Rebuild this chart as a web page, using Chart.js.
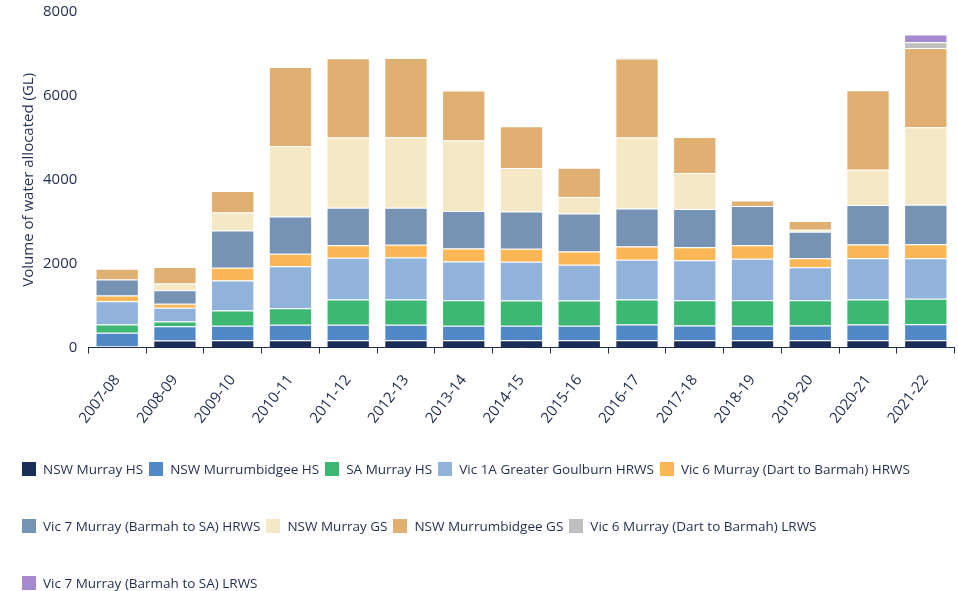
<!DOCTYPE html>
<html>
<head>
<meta charset="utf-8">
<script src="https://cdn.jsdelivr.net/npm/chart.js@4/dist/chart.umd.min.js"></script>
<style>
  html, body { margin: 0; padding: 0; background: #ffffff; }
  #wrap { position: relative; width: 958px; height: 448px; }
  #legend { width: 936px; margin: -8px 0 0 0; padding: 0 0 0 22px; display: flex; flex-wrap: wrap;
            font-family: "Open Sans", sans-serif; font-size: 13.5px; color: #1f2d4f; position: relative; }
  .li { display: flex; align-items: center; height: 57px; margin-right: 6px; white-space: nowrap; }
  .sw { width: 14px; height: 14px; margin-right: 7px; }
</style>
</head>
<body>
<div id="wrap"><canvas id="c"></canvas></div>
<div id="legend"></div>
<script>
const categories = ["2007-08","2008-09","2009-10","2010-11","2011-12","2012-13","2013-14","2014-15","2015-16","2016-17","2017-18","2018-19","2019-20","2020-21","2021-22"];

const nswMurrayHS        = [24, 168, 174, 174, 174, 174, 174, 174, 174, 174, 174, 174, 174, 174, 174];
const nswMurrumbidgeeHS  = [327, 342, 344, 368, 368, 368, 344, 344, 344, 375, 351, 344, 351, 375, 382];
const saMurrayHS         = [198, 113, 365, 396, 604, 604, 611, 604, 604, 597, 604, 611, 604, 597, 606];
const vic1AGoulburnHRWS  = [556, 328, 716, 1003, 995, 1002, 924, 924, 852, 947, 955, 988, 788, 986, 970];
const vic6MurrayHRWS     = [136, 96, 303, 296, 301, 303, 310, 310, 318, 318, 310, 325, 215, 327, 334];
const vic7MurrayHRWS     = [382, 318, 891, 890, 893, 884, 891, 890, 907, 907, 907, 931, 630, 938, 940];
const nswMurrayGS        = [0, 161, 429, 1678, 1671, 1678, 1680, 1034, 389, 1688, 860, 0, 48, 845, 1845];
const nswMurrumbidgeeGS  = [256, 397, 509, 1886, 1892, 1893, 1193, 995, 701, 1885, 859, 136, 205, 1893, 1893];
const vic6MurrayLRWS     = [0, 0, 0, 0, 0, 0, 0, 0, 0, 20, 0, 0, 0, 0, 136];
const vic7MurrayLRWS     = [0, 0, 0, 0, 0, 0, 0, 0, 0, 0, 0, 0, 0, 0, 184];

const yTicks = [0, 2000, 4000, 6000, 8000];
const yTitle = "Volume of water allocated (GL)";

const seriesNames = ["NSW Murray HS","NSW Murrumbidgee HS","SA Murray HS","Vic 1A Greater Goulburn HRWS","Vic 6 Murray (Dart to Barmah) HRWS","Vic 7 Murray (Barmah to SA) HRWS","NSW Murray GS","NSW Murrumbidgee GS","Vic 6 Murray (Dart to Barmah) LRWS","Vic 7 Murray (Barmah to SA) LRWS"];
const seriesValues = [nswMurrayHS, nswMurrumbidgeeHS, saMurrayHS, vic1AGoulburnHRWS, vic6MurrayHRWS, vic7MurrayHRWS, nswMurrayGS, nswMurrumbidgeeGS, vic6MurrayLRWS, vic7MurrayLRWS];
const seriesColors = ["#1b2e58","#5189c8","#3db873","#91b3db","#fbb655","#7793b4","#f4e8c5","#dfb071","#bfbfbf","#a68ad0"];

const navy = "#1f2d4f";
const font = "'Open Sans', sans-serif";

const datasets = seriesNames.map((n, i) => ({
  label: n,
  data: seriesValues[i],
  backgroundColor: seriesColors[i],
  borderColor: "rgba(255,255,255,0.55)",
  borderWidth: 1,
  categoryPercentage: 0.75,
  barPercentage: 1.0
}));

const chart = new Chart(document.getElementById('c'), {
  type: 'bar',
  data: { labels: categories, datasets },
  options: {
    responsive: true,
    maintainAspectRatio: false,
    animation: false,
    layout: { padding: { left: 12, right: 1, top: 0, bottom: 3 } },
    plugins: { legend: { display: false }, tooltip: { enabled: false } },
    scales: {
      x: {
        stacked: true,
        offset: true,
        grid: { display: true, drawOnChartArea: false, drawTicks: true, tickLength: 6, color: navy, lineWidth: 1 },
        border: { display: true, color: navy, width: 1 },
        ticks: { color: navy, font: { family: font, size: 15 }, minRotation: 52, maxRotation: 52, autoSkip: false, padding: 18 }
      },
      y: {
        stacked: true,
        min: 0, max: 8000,
        afterBuildTicks: (s) => { s.ticks = yTicks.map(v => ({ value: v })); },
        grid: { display: false, drawTicks: true, tickLength: 8 },
        border: { display: false },
        ticks: { color: navy, font: { family: font, size: 15 }, padding: 3, callback: (v) => String(v) },
        title: { display: true, text: yTitle, color: navy, font: { family: font, size: 15 }, padding: { top: 8, bottom: 2 } }
      }
    }
  }
});

const leg = document.getElementById('legend');
chart.data.datasets.forEach(ds => {
  const it = document.createElement('div'); it.className = 'li';
  const sw = document.createElement('span'); sw.className = 'sw'; sw.style.background = ds.backgroundColor;
  const tx = document.createElement('span'); tx.textContent = ds.label;
  it.appendChild(sw); it.appendChild(tx); leg.appendChild(it);
});
</script>
</body>
</html>
